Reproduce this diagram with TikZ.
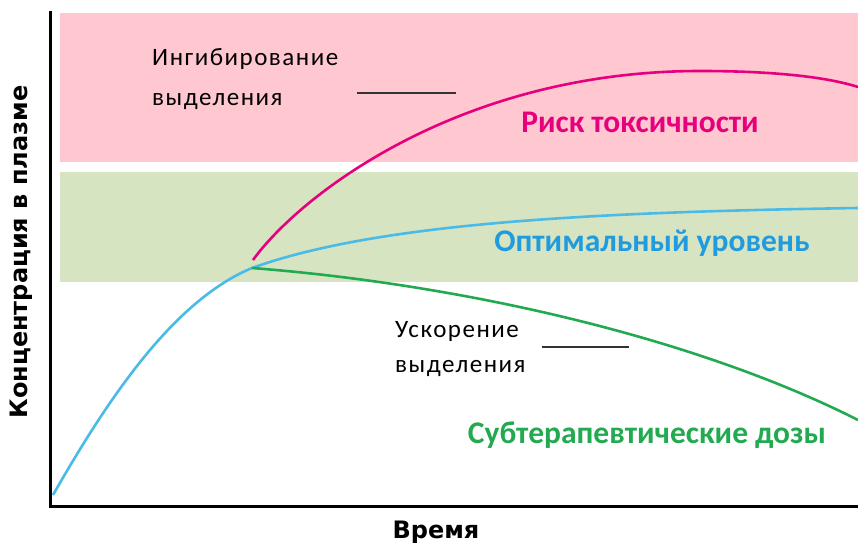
\documentclass[tikz,border=0pt]{standalone}
\usepackage{fontspec}
\setmainfont{Carlito}
\newfontfamily\notefont[LetterSpace=6]{Carlito}
\newfontfamily\axisfont{DejaVu Sans}
\usepackage{xcolor}
\usetikzlibrary{arrows}
\usetikzlibrary{positioning}

\definecolor{bandpink}{RGB}{255,199,207}
\definecolor{bandgreen}{RGB}{215,228,193}
\definecolor{toxic}{RGB}{230,0,126}
\definecolor{optimal}{RGB}{74,187,230}
\definecolor{optimaltext}{RGB}{32,155,222}
\definecolor{subther}{RGB}{34,170,80}

\tikzset{
  curve/.style={line width=2.6pt},
  note/.style={font=\notefont\fontsize{25}{40}\selectfont, align=left, text=black, inner sep=0pt},
  zonelabel/.style={font=\fontsize{31.5}{36}\selectfont\bfseries, inner sep=0pt},
  axislabel/.style={font=\axisfont\fontsize{24}{28}\selectfont\bfseries, inner sep=0pt},
  leader/.style={line width=1.2pt, black!80}
}

\begin{document}
\begin{tikzpicture}[>=stealth',x=1pt,y=-1pt]

                        \useasboundingbox (0,0) rectangle (858,545);
                        % \draw bands
                        \fill[bandpink] (60,13) rectangle (858,162);
                        \fill[bandgreen] (60,172) rectangle (858,282);
                        % \draw axes
                        \draw[line width=3pt] (50,11) -- (50,506) -- (858,506);

                        % \draw optimal line
                        \draw[curve, optimal]
                          (53,495) .. controls (110,395) and (175,300) ..
                          (252,268) .. controls (380,222) and (600,212) ..
                          (858,208);
                        % \draw toxic line
                        \draw[curve, toxic]
                          (253,260) .. controls (300,195) and (460,71) ..
                          (700,71) .. controls (780,71) and (830,78) ..
                          (858,87);
                        % \draw subtherapeutic line
                        \draw[curve, subther]
                          (252,268) .. controls (470,285) and (700,340) ..
                          (858,420);

                        % \draw notes with their leaders
                        \node[note, anchor=base west] (inhib) at (152,106)
                          {Ингибирование\\выделения};
                        \coordinate (inhibA) at (357,93);
                        \coordinate (inhibB) at (456,93);
                        \draw[leader] (inhibA) -- (inhibB);

                        \node[note, font=\notefont\fontsize{25}{35}\selectfont, anchor=base west] (accel) at (395,372)
                          {Ускорение\\выделения};
                        \coordinate (accelA) at (542,347);
                        \coordinate (accelB) at (629,347);
                        \draw[leader] (accelA) -- (accelB);

                        \node[zonelabel, text=toxic] (risk) at (640,122) {Риск токсичности};
                        \node[zonelabel, text=optimaltext] (opt) at (652,243) {Оптимальный уровень};
                        \node[zonelabel, text=subther] (sub) at (647,435) {Субтерапевтические дозы};

                        \node[axislabel, rotate=90] (ylab) at (21,252) {Концентрация в плазме};
                        \node[axislabel] (xlab) at (436,532) {Время};

\end{tikzpicture}
\end{document}
